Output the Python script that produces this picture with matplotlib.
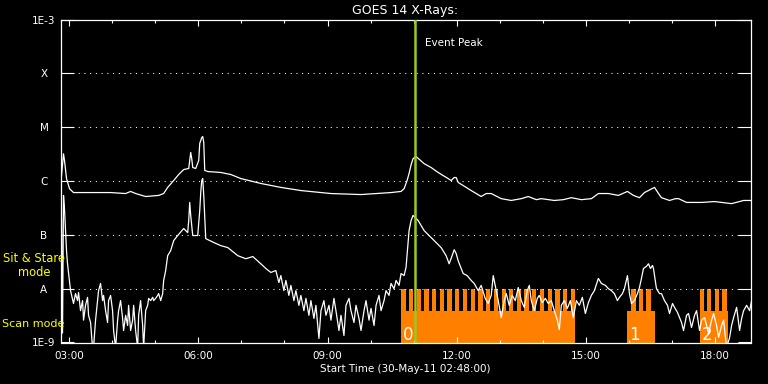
import numpy as np
import matplotlib
matplotlib.use('Agg')
import matplotlib.pyplot as plt

# ==================== data ====================
# time in decimal hours of 30-May-11, flux in W/m^2

# long channel (1-8 A)
long_t = [2.80, 2.823, 2.870, 2.893, 2.940, 3.009, 3.102, 3.498, 3.963, 4.312,
          4.428, 4.544, 4.777, 5.079, 5.195, 5.288, 5.428, 5.544, 5.660, 5.777,
          5.800, 5.823, 5.847, 5.870, 5.940, 6.009, 6.033, 6.056, 6.079, 6.102,
          6.126, 6.149, 6.219, 6.521, 6.754, 6.986, 7.451, 7.916, 8.381, 9.079,
          9.777, 10.474, 10.707, 10.777, 10.847, 10.893, 10.940, 10.986, 11.056, 11.242,
          11.405, 11.567, 11.800, 11.870, 11.940, 11.986, 12.033, 12.335, 12.567, 12.684,
          12.800, 13.033, 13.265, 13.498, 13.660, 13.847, 13.963, 14.265, 14.475, 14.660,
          14.893, 15.126, 15.288, 15.521, 15.753, 15.963, 16.102, 16.242, 16.358, 16.591,
          16.684, 16.753, 16.940, 17.079, 17.149, 17.335, 17.684, 17.986, 18.381, 18.660,
          18.846]
long_flux = [9.4e-7, 1.26e-6, 3.2e-6, 2.4e-6, 1.11e-6, 7.2e-7, 6.1e-7, 6.1e-7, 6.1e-7, 5.85e-7,
             6.4e-7, 5.85e-7, 5.15e-7, 5.4e-7, 5.85e-7, 7.6e-7, 1.02e-6, 1.32e-6, 1.63e-6, 1.71e-6,
             2.4e-6, 3.4e-6, 2.6e-6, 1.78e-6, 1.71e-6, 2.4e-6, 5.0e-6, 5.65e-6, 6.4e-6, 6.7e-6,
             5.2e-6, 1.57e-6, 1.5e-6, 1.44e-6, 1.32e-6, 1.11e-6, 9.0e-7, 7.6e-7, 6.65e-7, 5.85e-7,
             5.6e-7, 6.1e-7, 6.4e-7, 7.2e-7, 1.02e-6, 1.38e-6, 2.0e-6, 2.6e-6, 2.85e-6, 2.1e-6,
             1.78e-6, 1.44e-6, 1.11e-6, 1.02e-6, 1.16e-6, 1.16e-6, 9.4e-7, 6.65e-7, 5.15e-7, 5.85e-7,
             5.85e-7, 4.7e-7, 4.35e-7, 4.7e-7, 5.15e-7, 4.5e-7, 4.7e-7, 4.35e-7, 4.5e-7, 4.9e-7,
             4.5e-7, 4.7e-7, 5.85e-7, 5.85e-7, 5.4e-7, 6.4e-7, 5.4e-7, 4.9e-7, 6.1e-7, 7.6e-7,
             5.85e-7, 4.9e-7, 4.35e-7, 4.7e-7, 4.7e-7, 4.0e-7, 4.0e-7, 4.15e-7, 3.8e-7, 4.35e-7,
             4.35e-7]

# short channel (0.5-4 A)
short_t = [2.800, 2.823, 2.847, 2.870, 2.893, 2.916, 2.940, 2.963, 3.033, 3.102,
           3.149, 3.195, 3.219, 3.265, 3.312, 3.335, 3.381, 3.428, 3.451, 3.498,
           3.544, 3.567, 3.614, 3.660, 3.684, 3.730, 3.777, 3.800, 3.847, 3.893,
           3.916, 3.963, 4.009, 4.033, 4.079, 4.126, 4.149, 4.195, 4.242, 4.265,
           4.312, 4.358, 4.381, 4.428, 4.474, 4.498, 4.544, 4.591, 4.614, 4.660,
           4.707, 4.730, 4.777, 4.823, 4.847, 4.893, 4.940, 4.963, 5.009, 5.056,
           5.079, 5.126, 5.172, 5.195, 5.242, 5.288, 5.358, 5.428, 5.521, 5.660,
           5.753, 5.777, 5.800, 5.823, 5.870, 5.986, 6.033, 6.056, 6.079, 6.102,
           6.126, 6.172, 6.358, 6.521, 6.684, 6.916, 7.102, 7.265, 7.451, 7.567,
           7.684, 7.800, 7.870, 7.916, 7.986, 8.033, 8.102, 8.149, 8.219, 8.265,
           8.335, 8.381, 8.451, 8.498, 8.567, 8.614, 8.684, 8.730, 8.800, 8.847,
           8.916, 8.963, 9.033, 9.079, 9.149, 9.195, 9.265, 9.312, 9.381, 9.428,
           9.498, 9.544, 9.614, 9.660, 9.730, 9.777, 9.847, 9.893, 9.963, 10.009,
           10.079, 10.126, 10.195, 10.242, 10.312, 10.358, 10.428, 10.474, 10.544, 10.591,
           10.660, 10.707, 10.777, 10.823, 10.893, 10.940, 10.986, 11.102, 11.242, 11.405,
           11.521, 11.637, 11.753, 11.823, 11.893, 11.940, 11.986, 12.033, 12.149, 12.242,
           12.335, 12.405, 12.498, 12.567, 12.660, 12.730, 12.800, 12.847, 12.893, 12.963,
           13.033, 13.102, 13.149, 13.219, 13.288, 13.358, 13.428, 13.498, 13.567, 13.637,
           13.684, 13.730, 13.800, 13.870, 13.916, 13.986, 14.056, 14.126, 14.195, 14.265,
           14.335, 14.381, 14.428, 14.498, 14.567, 14.637, 14.707, 14.777, 14.847, 14.916,
           14.986, 15.056, 15.126, 15.195, 15.288, 15.358, 15.451, 15.521, 15.591, 15.660,
           15.730, 15.777, 15.847, 15.893, 15.963, 16.009, 16.056, 16.126, 16.195, 16.242,
           16.288, 16.335, 16.405, 16.451, 16.498, 16.545, 16.567, 16.637, 16.707, 16.753,
           16.823, 16.893, 16.940, 17.009, 17.056, 17.126, 17.172, 17.219, 17.265, 17.335,
           17.381, 17.451, 17.521, 17.568, 17.637, 17.684, 17.754, 17.800, 17.847, 17.916,
           17.963, 18.033, 18.079, 18.149, 18.195, 18.265, 18.335, 18.381, 18.428, 18.498,
           18.567, 18.614, 18.660, 18.730, 18.800, 18.846]
short_flux = [1.2e-9, 2.0e-7, 1.5e-9, 5.4e-7, 3.0e-7, 1.2e-7, 5.0e-8, 2.9e-8, 9.2e-9, 5.3e-9,
              8.1e-9, 6.0e-9, 8.5e-9, 3.9e-9, 6.0e-9, 2.6e-9, 4.9e-9, 6.9e-9, 3.2e-9, 2.35e-9,
              8e-10, 8e-10, 2.6e-9, 6.0e-9, 9.2e-9, 1.25e-8, 6.0e-9, 7.5e-9, 3.9e-9, 2.35e-9,
              6.0e-9, 7.5e-9, 3.9e-9, 1.67e-9, 8e-10, 2.6e-9, 3.9e-9, 6.0e-9, 2.8e-9, 1.67e-9,
              3.2e-9, 2.07e-9, 4.9e-9, 1.67e-9, 2.6e-9, 4.9e-9, 1.67e-9, 8e-10, 3.2e-9, 6.0e-9,
              2.07e-9, 8e-10, 3.9e-9, 4.9e-9, 6.6e-9, 6.0e-9, 6.9e-9, 6.0e-9, 6.6e-9, 7.5e-9,
              8.1e-9, 6.0e-9, 8.1e-9, 1.42e-8, 2.17e-8, 4.1e-8, 5.1e-8, 7.8e-8, 9.7e-8, 1.31e-7,
              1.1e-7, 1.85e-7, 4.0e-7, 2.3e-7, 9.7e-8, 9.7e-8, 2.83e-7, 6.1e-7, 1.02e-6, 1.11e-6,
              5.4e-7, 8.5e-8, 7.2e-8, 6.3e-8, 5.8e-8, 4.1e-8, 3.6e-8, 3.95e-8, 2.9e-8, 2.37e-8,
              2.0e-8, 2.17e-8, 1.3e-8, 1.75e-8, 9.2e-9, 1.42e-8, 7.5e-9, 1.15e-8, 6.0e-9, 9.2e-9,
              4.9e-9, 7.5e-9, 3.9e-9, 6.6e-9, 3.2e-9, 6.0e-9, 2.8e-9, 4.9e-9, 1.19e-9, 3.9e-9,
              6.0e-9, 3.2e-9, 4.9e-9, 2.6e-9, 6.6e-9, 3.9e-9, 1.67e-9, 3.2e-9, 1.35e-9, 4.9e-9,
              6.6e-9, 3.9e-9, 2.35e-9, 4.9e-9, 2.8e-9, 1.67e-9, 3.9e-9, 6.0e-9, 2.6e-9, 4.3e-9,
              2.07e-9, 4.9e-9, 7.5e-9, 3.9e-9, 6.0e-9, 9.2e-9, 7.5e-9, 1.25e-8, 1.0e-8, 1.42e-8,
              1.15e-8, 1.91e-8, 1.75e-8, 2.5e-8, 1.2e-7, 1.85e-7, 2.3e-7, 1.85e-7, 1.2e-7, 8.9e-8,
              7.2e-8, 5.8e-8, 4.1e-8, 2.9e-8, 4.1e-8, 5.3e-8, 4.5e-8, 3.3e-8, 1.91e-8, 1.75e-8,
              1.42e-8, 1.25e-8, 9.2e-9, 1.15e-8, 6.6e-9, 5.3e-9, 7.5e-9, 1.75e-8, 1.15e-8, 6.0e-9,
              2.9e-9, 6.0e-9, 8.1e-9, 4.9e-9, 7.5e-9, 6.0e-9, 1.05e-8, 6.0e-9, 4.5e-9, 9.2e-9,
              1.15e-8, 6.0e-9, 3.9e-9, 6.6e-9, 7.5e-9, 5.5e-9, 6.6e-9, 5.3e-9, 6.0e-9, 3.9e-9,
              2.6e-9, 1.74e-9, 4.9e-9, 6.0e-9, 4.3e-9, 6.0e-9, 2.9e-9, 6.0e-9, 4.9e-9, 6.9e-9,
              3.45e-9, 5.5e-9, 7.5e-9, 9.2e-9, 1.55e-8, 1.25e-8, 1.15e-8, 1.0e-8, 9.2e-9, 8.1e-9,
              6.0e-9, 6.9e-9, 8.1e-9, 1.0e-8, 1.75e-8, 8.1e-9, 5.3e-9, 6.0e-9, 8.1e-9, 1.05e-8,
              1.55e-8, 2.37e-8, 2.6e-8, 2.9e-8, 2.37e-8, 2.7e-8, 2.37e-8, 1.0e-8, 8.1e-9, 8.1e-9,
              6.0e-9, 4.9e-9, 3.45e-9, 5.3e-9, 4.5e-9, 3.6e-9, 2.9e-9, 2.35e-9, 1.67e-9, 3.2e-9,
              3.45e-9, 1.9e-9, 3.2e-9, 3.9e-9, 1.67e-9, 2.6e-9, 2.9e-9, 2.07e-9, 1.47e-9, 2.6e-9,
              3.45e-9, 2.07e-9, 1.24e-9, 2.07e-9, 2.6e-9, 8e-10, 1.24e-9, 2.07e-9, 2.9e-9, 4.5e-9,
              1.67e-9, 2.8e-9, 3.9e-9, 4.9e-9, 3.9e-9, 6.0e-9]

# scan-mode observation blocks (start, end) and their labels
block_start = [10.707, 15.963, 17.637]
block_end = [14.753, 16.614, 18.288]
block_label = ['0', '1', '2']
block_top = 3.9e-9

# sit & stare exposures inside the blocks
stare_start = [10.71, 10.89, 11.07, 11.25, 11.42, 11.60, 11.78, 11.96, 12.14, 12.32,
               12.50, 12.68, 12.86, 13.04, 13.21, 13.39, 13.57, 13.75, 13.93, 14.11,
               14.29, 14.47, 14.65,
               16.056, 16.226, 16.405,
               17.637, 17.812, 17.986, 18.165]
stare_width = 0.1
stare_top = 9.7e-9

event_peak = 11.02

hour_ticks = [3, 6, 9, 12, 15, 18]
class_ticks = [1e-9, 1e-8, 1e-7, 1e-6, 1e-5, 1e-4, 1e-3]
class_labels = ['1E-9', 'A', 'B', 'C', 'M', 'X', '1E-3']

# ==================== plot ====================
ORANGE = '#ff8000'
fig = plt.figure(figsize=(7.68, 3.84), dpi=100, facecolor='black')
ax = fig.add_axes([60.5 / 768, 41.5 / 384, 690 / 768, 323 / 384])
ax.set_facecolor('black')
ax.set_yscale('log')
ax.set_xlim(2.8, 18.82)
ax.set_ylim(1e-9, 1e-3)

floor = 1e-10
widths = [e - s for s, e in zip(block_start, block_end)]
ax.bar(block_start, [block_top - floor] * len(block_start), width=widths,
       bottom=floor, align='edge', color=ORANGE, lw=0, zorder=1)
# last exposure of the first block is cut at the block end
ends = [min(s + stare_width, block_end[0]) if s < block_end[0] else s + stare_width
        for s in stare_start]
ax.bar(stare_start, [stare_top - floor] * len(stare_start),
       width=[e - s for s, e in zip(stare_start, ends)],
       bottom=floor, align='edge', color=ORANGE, lw=0, zorder=1)

# dotted class grid
for y in class_ticks[1:-1]:
    ax.axhline(y, color='white', lw=0.75, ls=(0, (1, 4.5)), zorder=1.5)

ax.plot(long_t, long_flux, color='white', lw=0.9, zorder=3)
ax.plot(short_t, short_flux, color='white', lw=0.9, zorder=3)

ax.axvline(event_peak, color='#9cc820', lw=1.8, zorder=4)
ax.text(11.265, 3.6e-4, 'Event Peak', color='white', fontsize=7.5,
        ha='left', va='center')

for s, lab in zip(block_start, block_label):
    ax.text(s + 0.04, 1.13e-9, lab, color='white', fontsize=12,
            ha='left', va='baseline', zorder=5)

# axes styling
for sp in ax.spines.values():
    sp.set_color('white')
    sp.set_linewidth(0.9)

ax.set_xticks(hour_ticks)
ax.set_xticklabels([f'{h:02d}:00' for h in hour_ticks])
ax.set_xticks(np.arange(3, 19, 1), minor=True)
ax.tick_params(axis='x', which='major', direction='in', length=4.3, width=0.8,
               colors='white', top=True, labelsize=7.5, pad=6)
ax.tick_params(axis='x', which='minor', direction='in', length=2.2, width=0.8,
               colors='white', top=True)

ax.set_yticks(class_ticks)
ax.set_yticklabels(class_labels)
ax.yaxis.set_minor_locator(matplotlib.ticker.NullLocator())
ax.tick_params(axis='y', which='major', direction='in', length=9.4, width=0.8,
               colors='white', right=True, labelsize=7.5, pad=11.9)
for lab in ax.get_yticklabels():
    lab.set_ha('center')

ax.set_title('GOES 14 X-Rays:', color='white', fontsize=9, pad=4)
ax.set_xlabel('Start Time (30-May-11 02:48:00)', color='white', fontsize=7.5,
              labelpad=2)

fig.text(34 / 768, 1 - 265 / 384, 'Sit & Stare\nmode', color='#ffff00',
         fontsize=8.3, ha='center', va='center', linespacing=1.1)
fig.text(2 / 768, 1 - 324 / 384, 'Scan mode', color='#ffff00',
         fontsize=8, ha='left', va='center')

fig.savefig('out.png', dpi=100, facecolor='black')
